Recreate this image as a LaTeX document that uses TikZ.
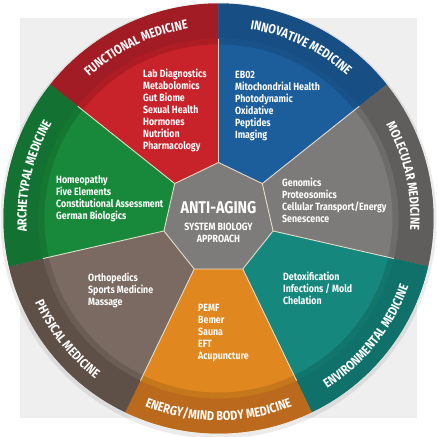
\documentclass[tikz,border=0pt]{standalone}
\usepackage{fontspec}
\newfontfamily\wheelfont{Fira Sans}[FakeStretch=0.84]
\usetikzlibrary{decorations.text}
\definecolor{backdrop}{HTML}{EFEFEF}
\definecolor{funcred}{HTML}{C8222A}
\definecolor{ringfuncred}{HTML}{A11C24}
\definecolor{innoblue}{HTML}{1C5E9C}
\definecolor{ringinnoblue}{HTML}{174F85}
\definecolor{molgray}{HTML}{7D7B79}
\definecolor{ringmolgray}{HTML}{605E5C}
\definecolor{envteal}{HTML}{16877D}
\definecolor{ringenvteal}{HTML}{10716A}
\definecolor{energyorange}{HTML}{E0881F}
\definecolor{ringenergyorange}{HTML}{BB691C}
\definecolor{physbrown}{HTML}{7A6A61}
\definecolor{ringphysbrown}{HTML}{5E4F47}
\definecolor{archgreen}{HTML}{18893A}
\definecolor{ringarchgreen}{HTML}{137232}
\definecolor{hubgray}{HTML}{7E7C7A}
\definecolor{seam}{HTML}{E4DCCB}
\tikzset{
    wedge/.style = {fill=#1},
    band/.style = {fill=#1},
    seamline/.style = {draw=seam, line width=0.9pt},
    itemlist/.style = {anchor=north west, align=left, inner sep=0pt, text=white,
        font=\wheelfont\bfseries\fontsize{10.5}{12}\selectfont},
    hubbig/.style = {inner sep=0pt, text=white, font=\wheelfont\bfseries\fontsize{17}{20}\selectfont},
    hubsmall/.style = {inner sep=0pt, align=center, text=white, font=\wheelfont\bfseries\fontsize{10.5}{12.5}\selectfont},
    ringtitle/.style = {decorate, decoration={text along path, text align=center,
        text color=white, text={|\wheelfont\bfseries\fontsize{13}{13}\selectfont|#1}}}
}

\begin{document}
\begin{tikzpicture}[x=1pt,y=1pt]
%
\path[use as bounding box] (-218.5,-218.5) rectangle (218.5,218.5);
\fill[backdrop] (-198.5,-199.5) rectangle (198.5,200.5);
\fill[black,opacity=0.08] (0,-2) circle (218);
%
% wedges and outer bands
\foreach \a/\c in {90/funcred, 38.57/innoblue, -12.86/molgray, -64.29/envteal,
                   -115.71/energyorange, -167.14/physbrown, 141.43/archgreen}
{
  \pgfmathsetmacro\b{\a+51.43}
  \fill[wedge=\c] (\a:56) -- (\a:215) arc[start angle=\a, end angle=\b, radius=215] -- (\b:56) -- cycle;
}
\draw[black,opacity=0.12,line width=6pt] (0,0) circle (177);
\foreach \a/\c in {90/funcred, 38.57/innoblue, -12.86/molgray, -64.29/envteal,
                   -115.71/energyorange, -167.14/physbrown, 141.43/archgreen}
{
  \pgfmathsetmacro\b{\a+51.43}
  \fill[band=ring\c] (\a:180) -- (\a:215) arc[start angle=\a, end angle=\b, radius=215]
      -- (\b:180) arc[start angle=\b, end angle=\a, radius=180] -- cycle;
}
\foreach \a in {90,38.57,-12.86,-64.29,-115.71,-167.14,141.43}
  \draw[seamline] (\a:56) -- (\a:180);
\filldraw[fill=hubgray, seamline] (90:56) \foreach \k in {1,...,6} { -- ({90+\k*51.43}:56) } -- cycle;
%
% titles on the band
\path[ringtitle={FUNCTIONAL MEDICINE}] (141.43:192) arc[start angle=141.43, end angle=90, radius=192];
\path[ringtitle={INNOVATIVE MEDICINE}] (90:192) arc[start angle=90, end angle=38.57, radius=192];
\path[ringtitle={MOLECULAR MEDICINE}] (38.57:192) arc[start angle=38.57, end angle=-12.86, radius=192];
\path[ringtitle={ARCHETYPAL MEDICINE}] (192.86:192) arc[start angle=192.86, end angle=141.43, radius=192];
\path[ringtitle={ENVIRONMENTAL MEDICINE}] (-64.29:202) arc[start angle=-64.29, end angle=-12.86, radius=202];
\path[ringtitle={ENERGY/MIND BODY MEDICINE}] (-115.71:202) arc[start angle=-115.71, end angle=-64.29, radius=202];
\path[ringtitle={PHYSICAL MEDICINE}] (-167.14:202) arc[start angle=-167.14, end angle=-115.71, radius=202];
%
% lists
\node[itemlist] (functional) at (-75.5,149.5) {Lab Diagnostics\\Metabolomics\\Gut Biome\\Sexual Health\\Hormones\\Nutrition\\Pharmacology};
\node[itemlist] (innovative) at (16.5,147.5) {EB02\\Mitochondrial Health\\Photodynamic\\Oxidative\\Peptides\\Imaging};
\node[itemlist] (molecular) at (63.5,40.5) {Genomics\\Proteosomics\\Cellular Transport/Energy\\Senescence};
\node[itemlist] (environmental) at (64.5,-53.5) {Detoxification\\Infections / Mold\\Chelation};
\node[itemlist] (energy) at (-20.5,-85.5) {PEMF\\Bemer\\Sauna\\EFT\\Acupuncture};
\node[itemlist] (physical) at (-130.5,-54.5) {Orthopedics\\Sports Medicine\\Massage};
\node[itemlist] (archetypal) at (-162.5,43.5) {Homeopathy\\Five Elements\\Constitutional Assessment\\German Biologics};
%
% hub
\node[hubbig] (antiaging) at (0,10.5) {ANTI-AGING};
\node[hubsmall] (approach) at (0,-14.5) {SYSTEM BIOLOGY\\APPROACH};

\end{tikzpicture}
\end{document}
